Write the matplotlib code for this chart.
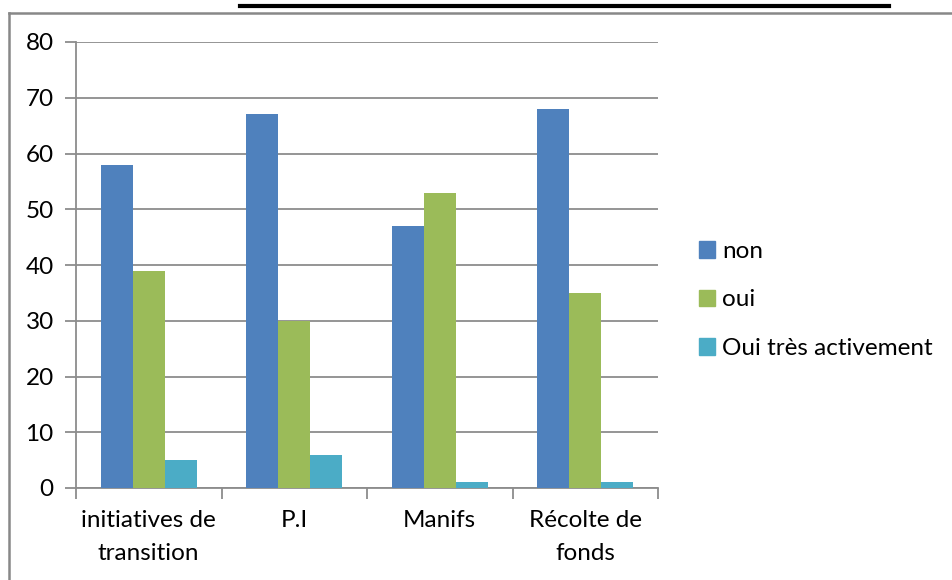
import matplotlib
matplotlib.use("Agg")
import matplotlib.pyplot as plt
import numpy as np
from matplotlib.patches import Patch
from matplotlib.lines import Line2D

categories = ["initiatives de\ntransition", "P.I", "Manifs", "Récolte de\nfonds"]
series_names = ["non", "oui", "Oui très activement"]
non_vals = [58, 67, 47, 68]
oui_vals = [39, 30, 53, 35]
tres_vals = [5, 6, 1, 1]
colors = ["#4F81BD", "#9BBB59", "#4BACC6"]
yticks = [0, 10, 20, 30, 40, 50, 60, 70, 80]

plt.rcParams['font.family'] = ['Lato', 'DejaVu Sans']

W, H = 953, 580
fig = plt.figure(figsize=(W / 100, H / 100), dpi=100)

# outer chart frame (gray)
fig.add_artist(Line2D([8.5, W], [H - 12.5, H - 12.5], transform=None,
                      color="#888888", linewidth=1.8, zorder=10))
fig.add_artist(Line2D([8.5, 8.5], [0, H - 12.5], transform=None,
                      color="#888888", linewidth=1.8, zorder=10))
# title underline (title text is cut off in the reference)
fig.add_artist(Line2D([240 / W, 889 / W], [1 - 5.5 / H, 1 - 5.5 / H], transform=fig.transFigure,
                      color="black", linewidth=3))

left, right, top, bottom = 76, 658, 42, 488
ax = fig.add_axes([left / W, 1 - bottom / H, (right - left) / W, (bottom - top) / H])

x = np.arange(len(categories))
bw = 0.22
for i, (vals, name) in enumerate(zip([non_vals, oui_vals, tres_vals], series_names)):
    ax.bar(x + (i - 1) * bw, vals, width=bw, color=colors[i], label=name, zorder=3)

fs = 17.5
ax.set_xlim(-0.5, len(categories) - 0.5)
ax.set_ylim(0, 80)
ax.set_yticks(yticks)
ax.set_yticklabels([str(v) for v in yticks], fontsize=fs)
ax.yaxis.grid(True, color="#8c8c8c", linewidth=1.3, zorder=0)
ax.set_axisbelow(True)

ax.set_xticks(x)
ax.set_xticklabels(categories, fontsize=fs, linespacing=1.7)
ax.tick_params(axis='x', length=0, pad=16)
ax.set_xticks(np.arange(len(categories) + 1) - 0.5, minor=True)
ax.tick_params(axis='x', which='minor', length=8, color="#8c8c8c", width=1.3)
ax.tick_params(axis='y', length=8, color="#8c8c8c", width=1.3, pad=8)

for s in ["top", "right"]:
    ax.spines[s].set_visible(False)
for s in ["left", "bottom"]:
    ax.spines[s].set_color("#8c8c8c")
    ax.spines[s].set_linewidth(1.3)

handles = [Patch(facecolor=c, edgecolor=c) for c in colors]
fig.legend(handles, series_names, loc="center left", bbox_to_anchor=(699 / W, 1 - 300 / H),
           frameon=False, fontsize=fs, handlelength=0.65, handleheight=0.65,
           handletextpad=0.3, labelspacing=1.13, borderaxespad=0, borderpad=0)

fig.savefig("out.png", dpi=100)
